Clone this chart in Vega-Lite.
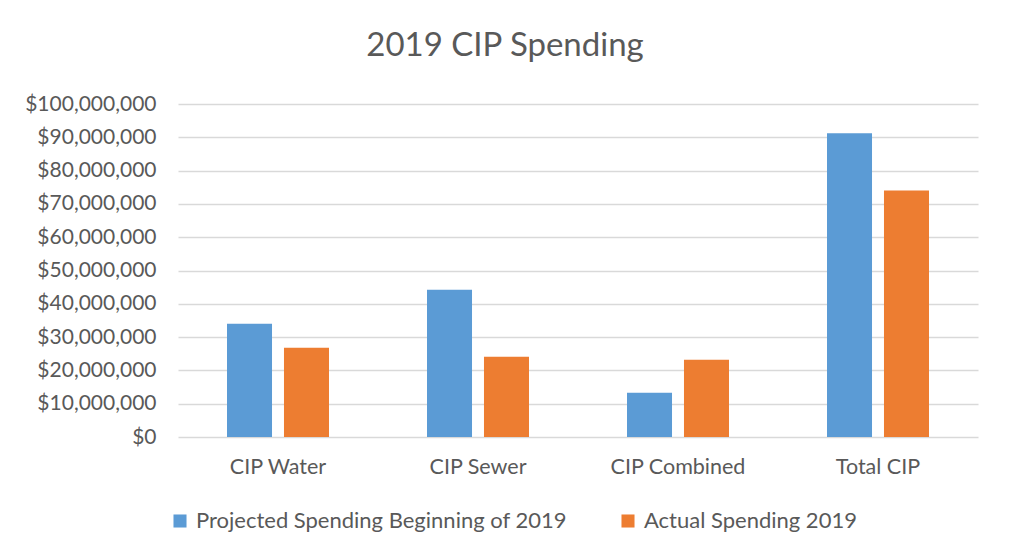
{
  "$schema": "https://vega.github.io/schema/vega-lite/v6.json",
  "width": 800,
  "height": 333,
  "autosize": {"type": "none"},
  "padding": {"left": 178, "top": 104, "right": 31, "bottom": 122},
  "background": "white",
  "title": {
    "text": "2019 CIP Spending",
    "font": "Lato",
    "fontSize": 33,
    "fontWeight": "normal",
    "color": "#595959",
    "anchor": "middle",
    "dx": -73,
    "offset": 30
  },
  "data": {
    "values": [
      {"category": "CIP Water", "series": "Projected Spending  Beginning of 2019", "value": 34000000},
      {"category": "CIP Water", "series": "Actual Spending 2019", "value": 26800000},
      {"category": "CIP Sewer", "series": "Projected Spending  Beginning of 2019", "value": 44200000},
      {"category": "CIP Sewer", "series": "Actual Spending 2019", "value": 24100000},
      {"category": "CIP Combined", "series": "Projected Spending  Beginning of 2019", "value": 13300000},
      {"category": "CIP Combined", "series": "Actual Spending 2019", "value": 23200000},
      {"category": "Total CIP", "series": "Projected Spending  Beginning of 2019", "value": 91200000},
      {"category": "Total CIP", "series": "Actual Spending 2019", "value": 74000000}
    ]
  },
  "mark": {"type": "bar"},
  "encoding": {
    "x": {
      "field": "category",
      "type": "nominal",
      "sort": ["CIP Water", "CIP Sewer", "CIP Combined", "Total CIP"],
      "scale": {"paddingInner": 0, "paddingOuter": 0},
      "axis": {
        "title": null,
        "labelAngle": 0,
        "labelFont": "Lato",
        "labelFontSize": 21.5,
        "labelColor": "#595959",
        "labelPadding": 19,
        "ticks": false,
        "domain": false,
        "grid": false
      }
    },
    "xOffset": {
      "field": "series",
      "type": "nominal",
      "sort": ["Projected Spending  Beginning of 2019", "Actual Spending 2019"],
      "scale": {"paddingInner": 0.21, "paddingOuter": 0.86}
    },
    "y": {
      "field": "value",
      "type": "quantitative",
      "scale": {"domain": [0, 100000000], "nice": false},
      "axis": {
        "title": null,
        "values": [0, 10000000, 20000000, 30000000, 40000000, 50000000, 60000000, 70000000, 80000000, 90000000, 100000000],
        "format": "$,.0f",
        "labelFont": "Lato",
        "labelFontSize": 21,
        "labelColor": "#595959",
        "labelPadding": 22,
        "ticks": false,
        "domain": false,
        "grid": true,
        "gridColor": "#d9d9d9",
        "gridWidth": 1.5
      }
    },
    "color": {
      "field": "series",
      "type": "nominal",
      "sort": ["Projected Spending  Beginning of 2019", "Actual Spending 2019"],
      "scale": {"range": ["#5B9BD5", "#ED7D31"]},
      "legend": {
        "title": null,
        "orient": "none",
        "direction": "horizontal",
        "legendX": -9,
        "legendY": 406,
        "symbolType": "square",
        "symbolSize": 170,
        "symbolStrokeWidth": 0,
        "labelFont": "Lato",
        "labelFontSize": 22,
        "labelColor": "#595959",
        "labelOffset": 5,
        "labelLimit": 0,
        "columnPadding": 44
      }
    }
  },
  "config": {
    "view": {"stroke": null}
  }
}
